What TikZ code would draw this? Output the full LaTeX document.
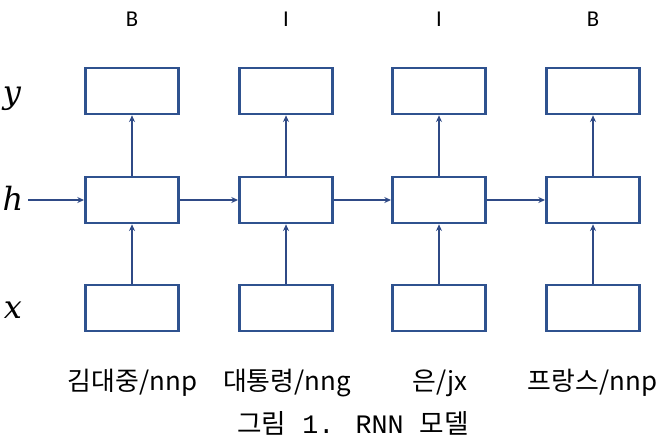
\documentclass[tikz,border=0pt]{standalone}
\usepackage{fontspec}
\setmainfont{Carlito}
\newfontfamily\kr{Noto Sans CJK KR}
\newfontfamily\capmono{Liberation Mono}
\newfontfamily\varfont{DejaVu Serif}
\newfontfamily\labfont{Carlito}
\usetikzlibrary{arrows.meta}
\definecolor{boxblue}{HTML}{2F528F}
\definecolor{arrblue}{HTML}{2F4A86}
\tikzset{
  cell/.style={draw=boxblue, line width=2pt, fill=white, minimum width=70pt, minimum height=34.5pt, inner sep=0pt},
  conn/.style={draw=arrblue, line width=1pt, -{Stealth[length=5pt,width=4.5pt]}},
  toplab/.style={font=\labfont\fontsize{17}{20}\selectfont, inner sep=0pt},
  word/.style={font=\kr\fontsize{19.4}{22}\selectfont, inner sep=0pt},
  capt/.style={font=\fontsize{20}{22}\selectfont, inner sep=0pt},
  var/.style={font=\varfont\itshape\fontsize{24}{26}\selectfont, inner sep=0pt, anchor=base}
}
\begin{document}
\begin{tikzpicture}[x=0.75pt,y=-0.75pt]
\useasboundingbox (0,0) rectangle (662,444);
\foreach \i/\cx/\lab in {1/132/B, 2/286/I, 3/439/I, 4/593/B}{
  \node[cell] (y\i) at (\cx,91) {};
  \node[cell] (h\i) at (\cx,200) {};
  \node[cell] (x\i) at (\cx,308) {};
  \node[toplab] (t\i) at (\cx,19) {\lab};
  \draw[conn] (x\i) -- (h\i);
  \draw[conn] (h\i) -- (y\i);
}
\node[word] (w1) at (132.5,383) {김대중/nnp};
\node[word] (w2) at (287,383) {대통령/nng};
\node[word] (w3) at (440,383) {은/jx};
\node[word] (w4) at (592.5,383) {프랑스/nnp};
\node[capt] (cap) at (353,423) {\kr 그림\capmono\fontsize{20}{22}\selectfont{} 1. RNN \kr 모델};
\node[var] (vy) at (12,103) {y};
\node[var] (vh) at (13,210) {h};
\node[var] (vx) at (13,318) {x};
\coordinate (hs) at (28,200);
\draw[conn] (hs) -- (h1);
\draw[conn] (h1) -- (h2);
\draw[conn] (h2) -- (h3);
\draw[conn] (h3) -- (h4);
\end{tikzpicture}
\end{document}
